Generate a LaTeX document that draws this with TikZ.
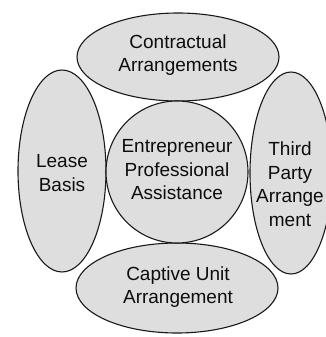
\documentclass[tikz,border=0pt]{standalone}
\usepackage{fontspec}
\setmainfont{Liberation Sans}
\usetikzlibrary{shapes.geometric}
\begin{document}
\begin{tikzpicture}[x=1pt,y=-1pt,
  blob/.style={draw=black!90, line width=1.1pt, fill=black!13},
  lbl/.style={align=center, font=\fontsize{19}{23.5}\selectfont, text=black!95, inner sep=0pt}]
\useasboundingbox[fill=white] (0,0) rectangle (326,337);
\path[blob] (62,171) ellipse [x radius=44, y radius=101];
\path[blob] (291,173) ellipse [x radius=41, y radius=101];
\path[blob] (178,57) ellipse [x radius=101, y radius=44];
\path[blob] (177,288) ellipse [x radius=101, y radius=45];
\path[blob] (177,172) circle [radius=71];
\node[lbl] (top) at (178,55) {Contractual\\Arrangements};
\node[lbl] (left) at (62,173) {Lease\\Basis};
\node[lbl] (center) at (177,170) {Entrepreneur\\Professional\\Assistance};
\node[lbl] (right) at (290,184) {Third\\Party\\Arrange\\ment};
\node[lbl] (bottom) at (178,287) {Captive Unit\\Arrangement};
\end{tikzpicture}
\end{document}
